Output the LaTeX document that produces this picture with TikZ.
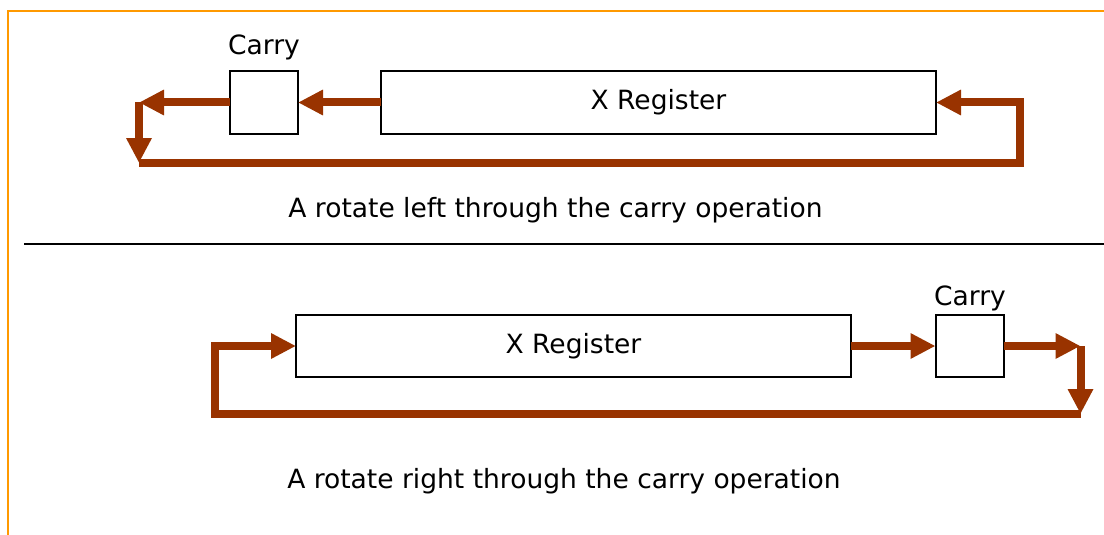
\documentclass[tikz,border=0pt]{standalone}
\usepackage{fontspec}
\setmainfont{DejaVu Sans}
\usetikzlibrary{arrows.meta}
\definecolor{rustbrown}{RGB}{153,51,0}
\definecolor{frameorange}{RGB}{255,153,0}

\begin{document}
\begin{tikzpicture}[x=1pt, y=-1pt, every node/.style={font=\fontsize{26.5}{32}\selectfont, inner sep=0pt, outer sep=0pt}, >={Triangle[length=25pt, width=24pt]}, box/.style={draw, line width=2pt, minimum height=62pt}, flow/.style={rustbrown, line width=8pt}]
	\useasboundingbox (0,0) rectangle (1104,535);
	\draw[frameorange, line width=2.5pt] (8,535) -- (8,11) -- (1104,11);
	% rotate left
	\node[box, minimum width=555pt] (xregL) at (658.5,102.5) {X Register};
	\node[box, minimum width=68pt] (carryL) at (264,102.5) {};
	\node[anchor=base] (carryLlab) at (264,55) {Carry};
	\coordinate (ltA) at (139,102.5);
	\coordinate (lbA) at (139,163);
	\coordinate (rbA) at (1020,163);
	\coordinate (rtA) at (1020,102.5);
	\draw[flow, ->] (xregL.west) -- (carryL.east);
	\draw[flow, ->] (carryL.west) -- (ltA);
	\draw[flow, ->] (ltA) -- (lbA);
	\draw[flow, ->] (lbA) -- (rbA) -- (rtA) -- (xregL.east);
	\node[anchor=base] (capL) at (555.5,217) {A rotate left through the carry operation};
	\draw[line width=2.5pt] (24,244) -- (1104,244);
	% rotate right
	\node[box, minimum width=555pt] (xregR) at (573.5,346) {X Register};
	\node[box, minimum width=68pt] (carryR) at (969.5,346) {};
	\node[anchor=base] (carryRlab) at (970,305) {Carry};
	\coordinate (rtB) at (1080.5,346);
	\coordinate (rbB) at (1080.5,414);
	\coordinate (lbB) at (214.5,414);
	\coordinate (ltB) at (214.5,346);
	\draw[flow, ->] (xregR.east) -- (carryR.west);
	\draw[flow, ->] (carryR.east) -- (rtB);
	\draw[flow, ->] (rtB) -- (rbB);
	\draw[flow, ->] (rbB) -- (lbB) -- (ltB) -- (xregR.west);
	\node[anchor=base] (capR) at (564,488) {A rotate right through the carry operation};
\end{tikzpicture}
\end{document}
